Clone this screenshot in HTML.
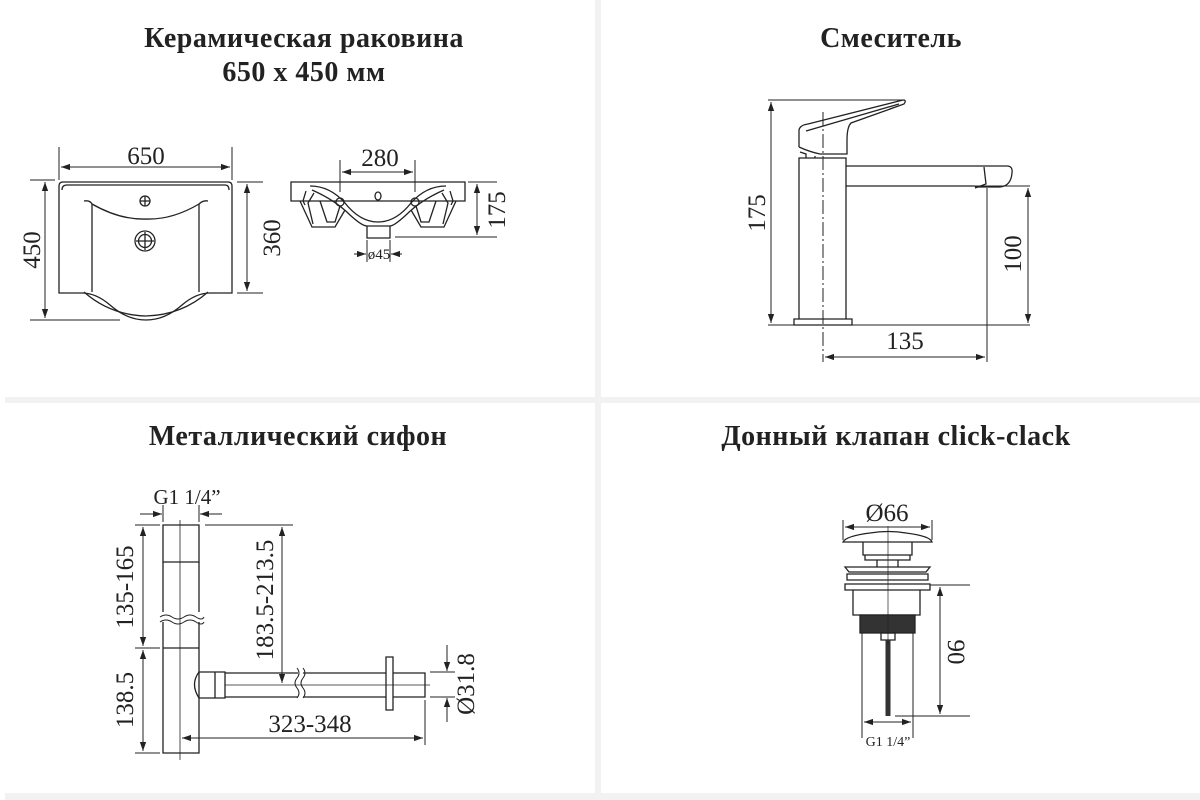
<!DOCTYPE html>
<html><head><meta charset="utf-8"><style>
html,body{margin:0;padding:0;background:#fff;width:1200px;height:800px;overflow:hidden}
svg{display:block}
text{font-family:"Liberation Serif",serif;fill:#222}
.t{font-weight:bold;font-size:28px;letter-spacing:0.5px}
.d{font-size:25px}
</style></head><body>
<svg width="1200" height="800" viewBox="0 0 1200 800">
<defs>
<marker id="a" viewBox="0 0 10 10" refX="10" refY="5" markerWidth="9" markerHeight="9" orient="auto-start-reverse" markerUnits="userSpaceOnUse"><path d="M0,1.5L10,5L0,8.5z" fill="#222"/></marker>
</defs>
<rect x="0" y="0" width="1200" height="800" fill="#fff"/>
<rect x="595" y="0" width="6" height="800" fill="#f2f2f2"/>
<rect x="5" y="397" width="1195" height="6" fill="#f2f2f2"/>
<rect x="5" y="793" width="1195" height="7" fill="#f2f2f2"/>

<text class="t" x="304" y="47" text-anchor="middle">Керамическая раковина</text>
<text class="t" x="304" y="81" text-anchor="middle">650 х 450 мм</text>
<text class="t" x="891" y="47" text-anchor="middle">Смеситель</text>
<text class="t" x="298" y="445" text-anchor="middle">Металлический сифон</text>
<text class="t" x="896" y="445" text-anchor="middle">Донный клапан click-clack</text>

<g fill="none" stroke="#222" stroke-width="1.3">
<!-- sink top -->
<path d="M59,293 L59,186 Q59,182 63,182 L228,182 Q232,182 232,186 L232,293 L210,293 Q196,293 182,305 Q165,320 146,320 Q127,320 110,305 Q96,293 82,293 Z"/>
<path d="M62,190 Q62,185 67,185 L225,185 Q229,185 229,190"/>
<path d="M84,201 Q90,200 92,204 Q120,220 146,219 Q172,220 199,204 Q203,200 208,201"/>
<path d="M92,204 L92,292 M199,204 L199,292"/>
<path d="M84,292 Q110,315 146,316 Q182,315 208,292"/>
<circle cx="145" cy="201" r="5"/><path d="M140,201h10M145,196v10"/>
<circle cx="145" cy="241" r="10"/><circle cx="145" cy="241" r="6.5"/><path d="M136,241h18M145,232v18"/>
<path d="M59,147V180M232,147V180" stroke-width="1"/>
<path d="M61,167H230" marker-start="url(#a)" marker-end="url(#a)" stroke-width="1"/>
<path d="M30,180H55M30,320H120" stroke-width="1"/>
<path d="M45,182V318" marker-start="url(#a)" marker-end="url(#a)" stroke-width="1"/>
<path d="M237,182H263M237,293H263" stroke-width="1"/>
<path d="M247,184V291" marker-start="url(#a)" marker-end="url(#a)" stroke-width="1"/>

<!-- sink side -->
<path d="M291,182H465V201H291Z"/>
<path d="M300,201L312,227H335L345,210"/>
<path d="M306,191L303,201L305,205M313,224L308,203L314,193"/>
<path d="M320,201L327,222H335L340,206"/>
<path d="M456,201L444,227H421L411,210"/>
<path d="M450,191L453,201L451,205M443,224L448,203L442,193"/>
<path d="M436,201L429,222H421L416,206"/>
<path d="M310,186Q330,186 345,203Q360,222 378,222Q396,222 411,203Q426,186 446,186"/>
<path d="M312,190Q335,200 350,215Q362,226 367,226H390Q394,226 406,215Q421,200 444,190"/>
<path d="M367,226V238H390V226"/>
<circle cx="340" cy="202" r="4"/><circle cx="415" cy="202" r="4"/>
<ellipse cx="378" cy="196" rx="3" ry="4"/>
<path d="M340,160V192M415,160V192" stroke-width="1"/>
<path d="M342,172H413" marker-start="url(#a)" marker-end="url(#a)" stroke-width="1"/>
<path d="M468,182H497M395,237H497" stroke-width="1"/>
<path d="M477,184V235" marker-start="url(#a)" marker-end="url(#a)" stroke-width="1"/>
<path d="M367,240V262M390,240V262" stroke-width="1"/>
<path d="M354,254H366" marker-end="url(#a)" stroke-width="1"/>
<path d="M402,254H391" marker-end="url(#a)" stroke-width="1"/>

<!-- faucet -->
<path d="M799,319V158H846V319"/>
<path d="M794,319H852V325H794Z"/>
<path d="M846,166H1007Q1013,166 1012,173Q1011,186 1000,187L975,187M846,186H975"/>
<path d="M984,167L986,184L975,188"/>
<path d="M799,147V130Q800,125 808,124L903,100Q907,100 904,104L851,123Q847,127 847,140V154H820Q810,152 799,147"/>
<path d="M806,131L899,104"/>
<path d="M800,152L806,154V158M815,156V158"/>
<path d="M823,112V362" stroke-dasharray="14,3,2,3" stroke-width="1"/>
<path d="M768,100H905M768,325H1030M975,186H1030" stroke-width="1"/>
<path d="M771,102V323" marker-start="url(#a)" marker-end="url(#a)" stroke-width="1"/>
<path d="M1028,188V323" marker-start="url(#a)" marker-end="url(#a)" stroke-width="1"/>
<path d="M987,188V362" stroke-width="1"/>
<path d="M825,357H985" marker-start="url(#a)" marker-end="url(#a)" stroke-width="1"/>

<!-- siphon -->
<path d="M163,525H199V562H163Z"/>
<path d="M163,562V612M199,562V612M163,622V753H199V622"/>
<path d="M160,617q6,-4 12,0t12,0t12,0t8,0M160,622q6,-4 12,0t12,0t12,0t8,0" stroke-width="1"/>
<path d="M163,648H199"/>
<path d="M180,520V760" stroke-width="0.8"/>
<path d="M199,672H225V698H199M199,672Q190,684 199,698M215,672V698"/>
<path d="M225,673H298M225,697H298M303,673H386M303,697H386M393,673H425V697H393"/>
<path d="M297,668q4,5 0,10t0,10t0,10M303,668q4,5 0,10t0,10t0,10" stroke-width="1"/>
<path d="M386,657H393V710H386Z"/>
<path d="M225,685H430" stroke-width="0.7"/>
<path d="M163,505V522M199,505V522" stroke-width="1"/>
<path d="M140,514H162" marker-end="url(#a)" stroke-width="1"/>
<path d="M222,514H200" marker-end="url(#a)" stroke-width="1"/>
<path d="M135,525H160M135,648H160M135,753H160M205,525H293" stroke-width="1"/>
<path d="M143,527V646" marker-start="url(#a)" marker-end="url(#a)" stroke-width="1"/>
<path d="M143,650V751" marker-start="url(#a)" marker-end="url(#a)" stroke-width="1"/>
<path d="M282,527V683" marker-start="url(#a)" marker-end="url(#a)" stroke-width="1"/>
<path d="M430,672H455M430,697H455M425,700V745" stroke-width="1"/>
<path d="M447,645V671" marker-end="url(#a)" stroke-width="1"/>
<path d="M447,722V698" marker-end="url(#a)" stroke-width="1"/>
<path d="M182,738H423" marker-start="url(#a)" marker-end="url(#a)" stroke-width="1"/>

<!-- drain -->
<path d="M843,542Q846,536 870,533Q888,530 906,533Q930,536 932,542Z"/>
<path d="M863,542V555H912V542M865,555V560H910V555"/>
<path d="M877,560V567M898,560V567"/>
<path d="M845,567H930L926,572H849Z"/>
<path d="M847,574H928V580H847ZM845,584H930V590H845Z"/>
<path d="M853,590V615H920V590"/>
<path d="M860,615H915V633H860Z" fill="#333"/>
<path d="M881,633H895V640H881Z"/>
<path d="M888,640V716" stroke-width="5" stroke="#333"/>
<path d="M888,526V645" stroke-width="0.7"/>
<path d="M843,520V540M932,520V540" stroke-width="1"/>
<path d="M845,527H930" marker-start="url(#a)" marker-end="url(#a)" stroke-width="1"/>
<path d="M862,633V738M913,633V738" stroke-width="1"/>
<path d="M864,722H911" marker-start="url(#a)" marker-end="url(#a)" stroke-width="1"/>
<path d="M930,585H970M895,716H970" stroke-width="1"/>
<path d="M940,587V714" marker-start="url(#a)" marker-end="url(#a)" stroke-width="1"/>
</g>

<g>
<text class="d" x="146" y="164" text-anchor="middle">650</text>
<text class="d" transform="translate(45,250) rotate(-90)" text-anchor="middle" dy="-5">450</text>
<text class="d" transform="translate(272,238) rotate(-90)" text-anchor="middle" dy="8">360</text>
<text class="d" x="380" y="166" text-anchor="middle">280</text>
<text class="d" transform="translate(497,210) rotate(-90)" text-anchor="middle" dy="8">175</text>
<text x="379" y="259" text-anchor="middle" style="font-size:15px">ø45</text>
<text class="d" transform="translate(768,213) rotate(-90)" text-anchor="middle" dy="-3">175</text>
<text class="d" transform="translate(1013,254) rotate(-90)" text-anchor="middle" dy="8">100</text>
<text class="d" x="905" y="349" text-anchor="middle">135</text>
<text x="187" y="504" text-anchor="middle" style="font-size:21px">G1 1/4”</text>
<text class="d" transform="translate(125,587) rotate(-90)" text-anchor="middle" dy="8">135-165</text>
<text class="d" transform="translate(125,700) rotate(-90)" text-anchor="middle" dy="8">138.5</text>
<text class="d" transform="translate(265,600) rotate(-90)" text-anchor="middle" dy="8">183.5-213.5</text>
<text class="d" transform="translate(466,684) rotate(-90)" text-anchor="middle" dy="8">Ø31.8</text>
<text class="d" x="310" y="732" text-anchor="middle">323-348</text>
<text class="d" x="887" y="521" text-anchor="middle">Ø66</text>
<text class="d" transform="translate(956,652) rotate(90)" text-anchor="middle" dy="8">90</text>
<text x="888" y="746" text-anchor="middle" style="font-size:14px">G1 1/4”</text>
</g>
</svg>
</body></html>
